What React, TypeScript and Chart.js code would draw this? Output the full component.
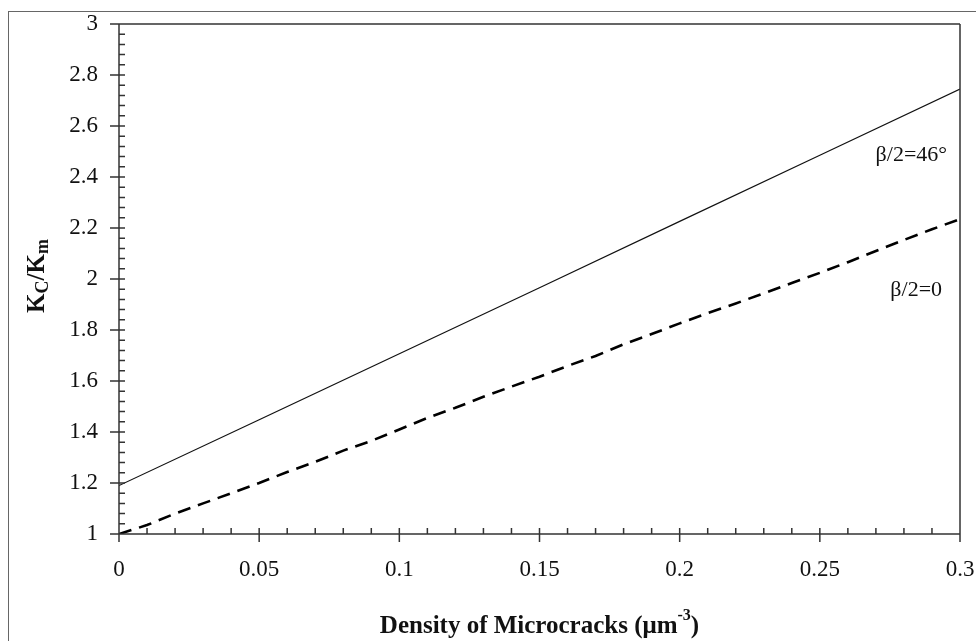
import React, { useEffect, useRef } from "react";
import { Chart, registerables } from "chart.js";

Chart.register(...registerables);

// ---- data ----
const densityDashed = [0, 0.01, 0.02, 0.03, 0.04, 0.05, 0.06, 0.07, 0.08, 0.09, 0.1, 0.11, 0.12, 0.13, 0.14, 0.15, 0.16, 0.17, 0.18, 0.19, 0.2, 0.21, 0.22, 0.23, 0.24, 0.25, 0.26, 0.27, 0.28, 0.29, 0.3];
const ratioBeta0 = [1.0, 1.035, 1.08, 1.12, 1.16, 1.2, 1.243, 1.283, 1.327, 1.365, 1.41, 1.455, 1.495, 1.538, 1.578, 1.617, 1.659, 1.698, 1.744, 1.784, 1.826, 1.866, 1.904, 1.944, 1.984, 2.024, 2.066, 2.11, 2.153, 2.195, 2.235];
const densitySolid = [0, 0.05, 0.1, 0.15, 0.2, 0.25, 0.3];
const ratioBeta46 = [1.19, 1.448, 1.707, 1.966, 2.226, 2.485, 2.745];

const xMin = 0, xMax = 0.3, xStep = 0.05, xMinorStep = 0.01;
const yMin = 1, yMax = 3, yStep = 0.2, yMinorStep = 0.04;

const labelTexts = ["β/2=46°", "β/2=0"];
const labelX = [0.2954, 0.2936];
const labelY = [2.486, 1.957];

const SERIF = "'Liberation Serif', 'Times New Roman', serif";

function drawRuns(ctx: CanvasRenderingContext2D, runs: { t: string; size: number; dy: number }[], cx: number, cy: number) {
  let total = 0;
  for (const r of runs) {
    ctx.font = `bold ${r.size}px ${SERIF}`;
    total += ctx.measureText(r.t).width;
  }
  let x = cx - total / 2;
  for (const r of runs) {
    ctx.font = `bold ${r.size}px ${SERIF}`;
    ctx.fillText(r.t, x, cy + r.dy);
    x += ctx.measureText(r.t).width;
  }
}

const framePlugin = {
  id: "framePlugin",
  beforeDraw(chart: any) {
    const ctx = chart.ctx;
    ctx.save();
    ctx.fillStyle = "#fff";
    ctx.fillRect(0, 0, chart.width, chart.height);
    ctx.strokeStyle = "#666";
    ctx.lineWidth = 1;
    ctx.strokeRect(8.5, 11.5, chart.width + 20, chart.height + 20);
    ctx.restore();
  },
  afterDatasetsDraw(chart: any) {
    const ctx = chart.ctx;
    const xs = chart.scales.x;
    const ys = chart.scales.y;
    const L = xs.getPixelForValue(xMin);
    const R = xs.getPixelForValue(xMax);
    const T = ys.getPixelForValue(yMax);
    const B = ys.getPixelForValue(yMin);
    ctx.save();
    ctx.strokeStyle = "#333";
    ctx.lineWidth = 1.5;
    ctx.beginPath();
    // frame
    ctx.moveTo(L - 9, T); ctx.lineTo(R, T);
    ctx.moveTo(R, T); ctx.lineTo(R, B + 8);
    ctx.moveTo(L, T); ctx.lineTo(L, B + 8);
    ctx.moveTo(L - 9, B); ctx.lineTo(R, B);
    // y ticks
    const nyMinor = Math.round((yMax - yMin) / yMinorStep);
    const ratioY = Math.round(yStep / yMinorStep);
    for (let i = 0; i <= nyMinor; i++) {
      const py = ys.getPixelForValue(yMin + i * yMinorStep);
      if (i % ratioY === 0) { ctx.moveTo(L - 9, py); ctx.lineTo(L + 6, py); }
      else { ctx.moveTo(L, py); ctx.lineTo(L + 6, py); }
    }
    const nxMinor = Math.round((xMax - xMin) / xMinorStep);
    const ratioX = Math.round(xStep / xMinorStep);
    for (let i = 0; i <= nxMinor; i++) {
      const px = xs.getPixelForValue(xMin + i * xMinorStep);
      if (i % ratioX === 0) { ctx.moveTo(px, B - 6); ctx.lineTo(px, B + 8); }
      else { ctx.moveTo(px, B - 6); ctx.lineTo(px, B); }
    }
    ctx.stroke();

    // series labels
    ctx.fillStyle = "#111";
    ctx.font = `22px ${SERIF}`;
    ctx.textAlign = "right";
    ctx.textBaseline = "middle";
    for (let i = 0; i < labelTexts.length; i++) {
      ctx.fillText(labelTexts[i], xs.getPixelForValue(labelX[i]), ys.getPixelForValue(labelY[i]));
    }

    // axis titles
    ctx.fillStyle = "#111";
    ctx.textAlign = "left";
    ctx.textBaseline = "alphabetic";
    drawRuns(ctx, [
      { t: "Density of Microcracks (μm", size: 25, dy: 0 },
      { t: "-3", size: 16, dy: -13 },
      { t: ")", size: 25, dy: 0 },
    ], (L + R) / 2, 633);

    ctx.save();
    ctx.translate(44, (T + B) / 2 - 3);
    ctx.rotate(-Math.PI / 2);
    drawRuns(ctx, [
      { t: "K", size: 25, dy: 0 },
      { t: "C", size: 18, dy: 4 },
      { t: "/K", size: 25, dy: 0 },
      { t: "m", size: 18, dy: 4 },
    ], 0, 0);
    ctx.restore();
    ctx.restore();
  },
};

const resetPad = (s: any) => {
  s.paddingTop = 0;
  s.paddingBottom = 0;
  s.paddingLeft = 0;
  s.paddingRight = 0;
};

export default function App() {
  const ref = useRef<HTMLCanvasElement | null>(null);
  useEffect(() => {
    if (!ref.current) return;
    const chart = new Chart(ref.current, {
      type: "line",
      data: {
        datasets: [
          {
            label: "β/2=46°",
            data: densitySolid.map((x, i) => ({ x, y: ratioBeta46[i] })),
            borderColor: "#111",
            borderWidth: 1.2,
            pointRadius: 0,
            tension: 0,
          },
          {
            label: "β/2=0",
            data: densityDashed.map((x, i) => ({ x, y: ratioBeta0[i] })),
            borderColor: "#000",
            borderWidth: 2.6,
            borderDash: [13, 8],
            pointRadius: 0,
            tension: 0,
          },
        ],
      },
      options: {
        animation: false,
        responsive: false,
        layout: { padding: { top: 24, right: 16, left: 0, bottom: 0 } },
        plugins: { legend: { display: false }, tooltip: { enabled: false } },
        scales: {
          x: {
            type: "linear",
            min: xMin,
            max: xMax,
            grid: { display: false, drawTicks: false },
            border: { display: false },
            ticks: {
              stepSize: xStep,
              padding: 22,
              color: "#111",
              font: { family: SERIF, size: 23 },
              maxRotation: 0,
              callback: (v: any) => String(Number(Number(v).toFixed(2))),
            },
            afterFit: (s: any) => { s.height = 107; resetPad(s); },
          },
          y: {
            type: "linear",
            min: yMin,
            max: yMax,
            grid: { display: false, drawTicks: false },
            border: { display: false },
            ticks: {
              stepSize: yStep,
              padding: 21,
              color: "#111",
              font: { family: SERIF, size: 23 },
              callback: (v: any) => String(Number(Number(v).toFixed(2))),
            },
            afterFit: (s: any) => { s.width = 119; resetPad(s); },
          },
        },
      },
      plugins: [framePlugin],
    });
    return () => chart.destroy();
  }, []);
  return (
    <div style={{ position: "absolute", left: 0, top: 0, width: 976, height: 641, overflow: "hidden", background: "#fff" }}>
      <canvas ref={ref} width={976} height={641} style={{ display: "block" }} />
    </div>
  );
}
